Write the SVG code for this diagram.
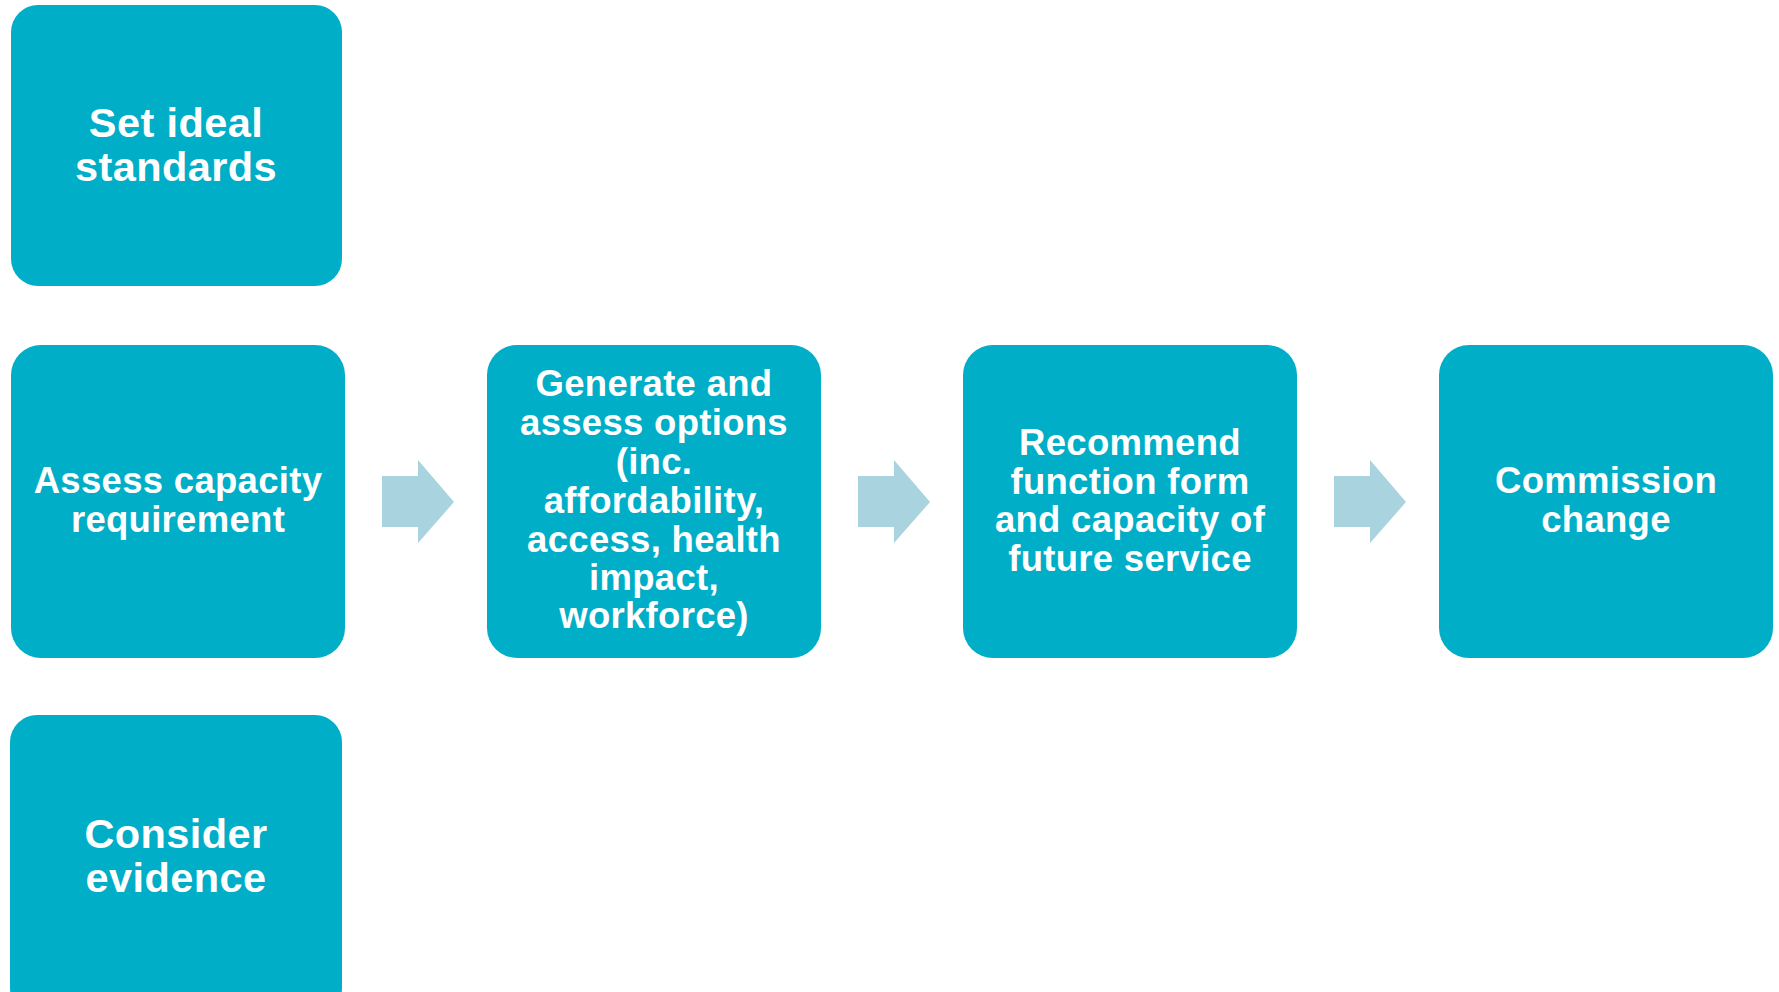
<svg xmlns="http://www.w3.org/2000/svg" width="1779" height="992" viewBox="0 0 1779 992">
<style>
.box{fill:#00AEC7;}
.t{font-family:"Liberation Sans",Arial,sans-serif;font-weight:bold;fill:#FFFFFF;text-anchor:middle;}
.m{font-size:36.5px;letter-spacing:0.3px;}
.l{font-size:41.5px;letter-spacing:0.4px;}
.arr{fill:#A9D3DE;}
</style>
<rect width="1779" height="992" fill="#FFFFFF"/>
<g id="connectors">
<polygon class="arr" points="382,476 418,476 418,460 454,502 418,543 418,527 382,527"/>
<polygon class="arr" points="858,476 894,476 894,460 930,502 894,543 894,527 858,527"/>
<polygon class="arr" points="1334,476 1370,476 1370,460 1406,502 1370,543 1370,527 1334,527"/>
</g>
<g id="set-ideal-standards">
<rect class="box" x="11" y="5" width="331" height="281" rx="27"/>
<text class="t l" x="176" y="137">Set ideal</text>
<text class="t l" x="176" y="181">standards</text>
</g>
<g id="assess-capacity">
<rect class="box" x="11" y="345" width="334" height="313" rx="30"/>
<text class="t m" x="178" y="493">Assess capacity</text>
<text class="t m" x="178" y="532">requirement</text>
</g>
<g id="consider-evidence">
<rect class="box" x="10" y="715" width="332" height="300" rx="27"/>
<text class="t l" x="176" y="848">Consider</text>
<text class="t l" x="176" y="892">evidence</text>
</g>
<g id="generate-options">
<rect class="box" x="487" y="345" width="334" height="313" rx="30"/>
<text class="t m" x="654" y="396">Generate and</text>
<text class="t m" x="654" y="435">assess options</text>
<text class="t m" x="654" y="474">(inc.</text>
<text class="t m" x="654" y="513">affordability,</text>
<text class="t m" x="654" y="552">access, health</text>
<text class="t m" x="654" y="590">impact,</text>
<text class="t m" x="654" y="628">workforce)</text>
</g>
<g id="recommend">
<rect class="box" x="963" y="345" width="334" height="313" rx="30"/>
<text class="t m" x="1130" y="455">Recommend</text>
<text class="t m" x="1130" y="494">function form</text>
<text class="t m" x="1130" y="532">and capacity of</text>
<text class="t m" x="1130" y="571">future service</text>
</g>
<g id="commission-change">
<rect class="box" x="1439" y="345" width="334" height="313" rx="30"/>
<text class="t m" x="1606" y="493">Commission</text>
<text class="t m" x="1606" y="532">change</text>
</g>
</svg>
